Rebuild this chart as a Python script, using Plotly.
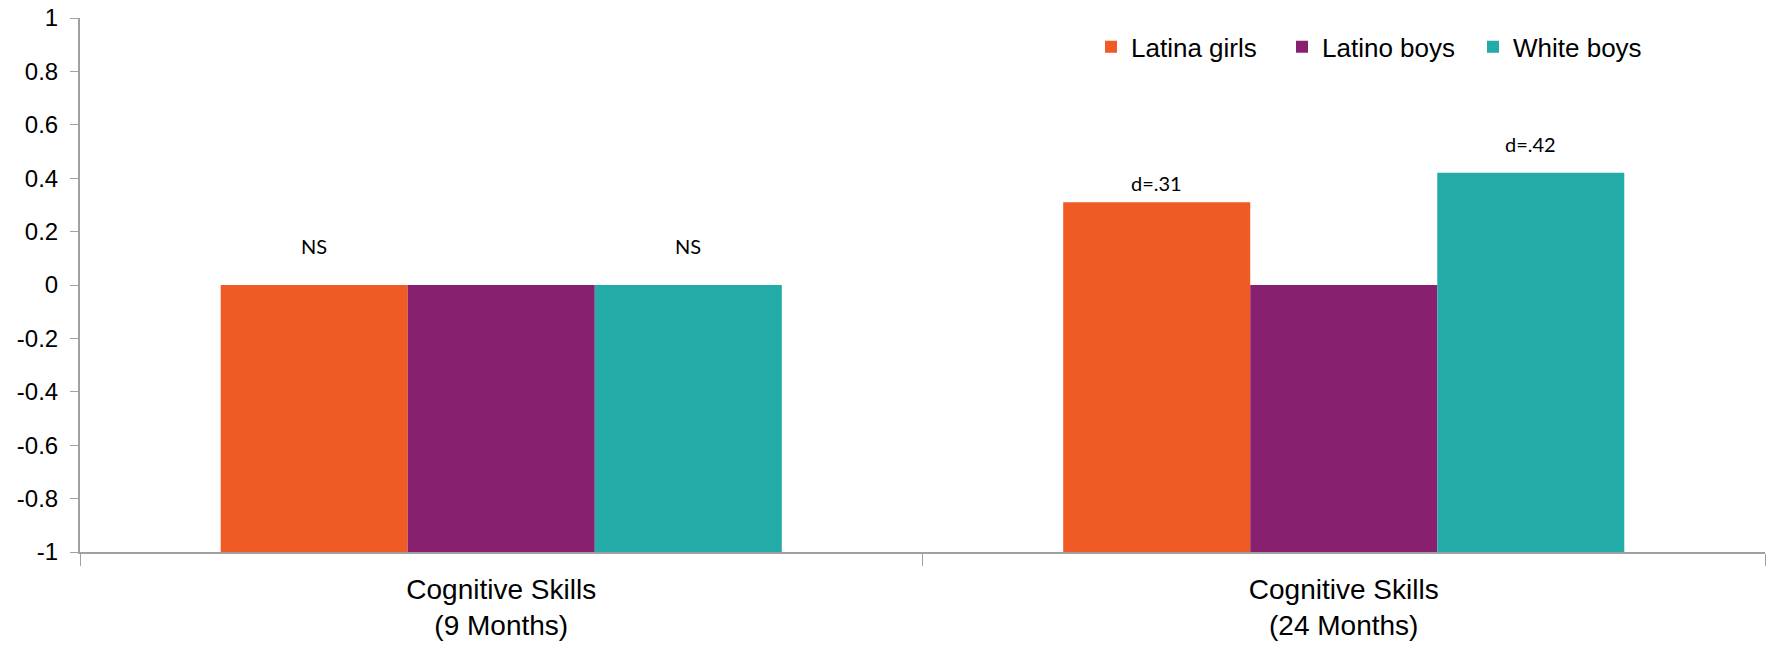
import plotly.graph_objects as go

categories = ["Cognitive Skills<br>(9 Months)", "Cognitive Skills<br>(24 Months)"]
series_names = ["Latina girls", "Latino boys", "White boys"]
latina_girls = [0.0, 0.31]
latino_boys = [0.0, 0.0]
white_boys = [0.0, 0.42]
series_values = [latina_girls, latino_boys, white_boys]
colors = ["#F05A24", "#88206F", "#23ABA7"]
axis_base = -1
y_ticks = [1, 0.8, 0.6, 0.4, 0.2, 0, -0.2, -0.4, -0.6, -0.8, -1]
# labels: (category index, series index, text)
bar_labels = [(0, 0, "NS"), (0, 2, "NS"), (1, 0, "d=.31"), (1, 2, "d=.42")]
label_lift = [39, 39, 19, 29]

fig = go.Figure()
for name, vals, col in zip(series_names, series_values, colors):
    fig.add_trace(go.Bar(
        name=name, x=categories, y=[v - axis_base for v in vals], base=axis_base,
        marker=dict(color=col, line=dict(width=0)),
        hoverinfo="skip",
    ))

bargap = 0.334
offsets = [-1, 0, 1]
for (ci, si, txt), lift in zip(bar_labels, label_lift):
    v = series_values[si][ci]
    fig.add_annotation(
        x=ci + offsets[si] * (1 - bargap) / 3, y=v, xref="x", yref="y",
        text=txt, showarrow=False, yanchor="middle", yshift=lift,
        font=dict(family="Lato", size=20, color="#000000"),
    )

fig.update_layout(
    width=1767, height=649,
    barmode="group", bargap=bargap, bargroupgap=0,
    plot_bgcolor="#FFFFFF", paper_bgcolor="#FFFFFF",
    margin=dict(l=80, r=2, t=18, b=97),
    font=dict(family="Arial", color="#000000"),
    showlegend=True,
    legend=dict(orientation="h", x=0.6, xanchor="left", y=0.946, yanchor="middle",
                font=dict(size=26), entrywidth=146, entrywidthmode="pixels",
                bgcolor="rgba(0,0,0,0)", traceorder="normal"),
    xaxis=dict(
        type="category", showline=True, linecolor="#A0A0A0", linewidth=2,
        ticks="outside", tickson="boundaries", ticklen=12, tickcolor="#A0A0A0", tickwidth=1,
        tickfont=dict(size=28), showgrid=False, zeroline=False, ticklabelstandoff=11,
        automargin=False,
    ),
    yaxis=dict(
        range=[-1, 1], tickvals=y_ticks, ticktext=[("%g" % t) for t in y_ticks],
        showline=True, linecolor="#A0A0A0", linewidth=2,
        ticks="outside", ticklen=8, tickcolor="#A0A0A0", tickwidth=1,
        tickfont=dict(size=24), showgrid=False, zeroline=False, ticklabelstandoff=7,
        ticklabeloverflow="allow", automargin=False,
    ),
)

fig.write_html("out.html", config={"displayModeBar": False},
               post_script="document.body.style.margin='0';")
